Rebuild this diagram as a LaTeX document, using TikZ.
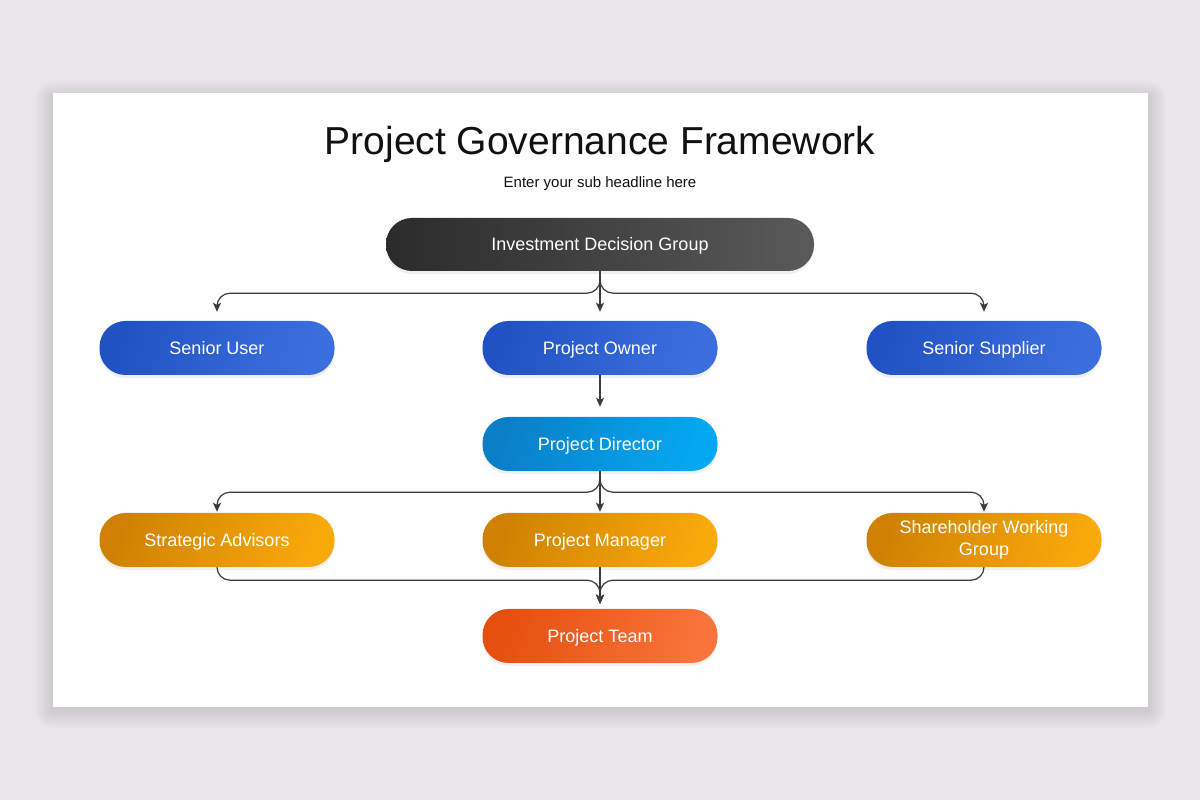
\documentclass[tikz,border=0pt]{standalone}
\usepackage{fontspec}
\setmainfont{Liberation Sans}
\usetikzlibrary{arrows.meta,shadows}

\definecolor{pagebg}{RGB}{232,230,232}
\definecolor{linegray}{RGB}{60,60,60}
\definecolor{titlegray}{RGB}{17,17,17}

\begin{document}
\begin{tikzpicture}[x=1pt,y=1pt,
    pill/.style={rounded corners=26pt, minimum width=235pt, minimum height=54pt,
      text=white, align=center, font=\fontsize{18}{22}\selectfont,
      text height=13pt, text depth=0pt,
      drop shadow={opacity=0.12, shadow xshift=0pt, shadow yshift=-3pt}},
    conn/.style={draw=linegray, line width=1.2pt, rounded corners=13pt,
      -{Stealth[length=9pt,width=8pt,inset=2pt]}}]

  \useasboundingbox (0,0) rectangle (1200,800);
  \fill[pagebg] (0,0) rectangle (1200,800);
  \foreach \s in {2,4,...,18}
    \fill[black, opacity=0.011, rounded corners=\s pt] (53-\s,93-\s-3) rectangle (1148+\s,707+\s-6);
  \fill[white] (53,93) rectangle (1148,707);

  \node[text=titlegray, font=\fontsize{39}{44}\selectfont] (title) at (600,656) {Project Governance Framework};
  \node[text=titlegray, font=\fontsize{15}{18}\selectfont] (subtitle) at (600,616) {Enter your sub headline here};

  \node[pill, minimum width=428pt, minimum height=53pt, left color={rgb,255:red,43;green,43;blue,43},
    right color={rgb,255:red,90;green,90;blue,90}] (idg) at (600,555.5) {Investment Decision Group};

  \node[pill, left color={rgb,255:red,33;green,82;blue,196}, right color={rgb,255:red,59;green,111;blue,224}, shading angle=70] (su) at (217,452) {Senior User};
  \node[pill, left color={rgb,255:red,33;green,82;blue,196}, right color={rgb,255:red,59;green,111;blue,224}, shading angle=70] (po) at (600,452) {Project Owner};
  \node[pill, left color={rgb,255:red,33;green,82;blue,196}, right color={rgb,255:red,59;green,111;blue,224}, shading angle=70] (ss) at (984,452) {Senior Supplier};

  \node[pill, left color={rgb,255:red,10;green,127;blue,200}, right color={rgb,255:red,4;green,168;blue,242}, shading angle=70] (pd) at (600,356) {Project Director};

  \node[pill, left color={rgb,255:red,207;green,130;blue,2}, right color={rgb,255:red,249;green,169;blue,10}, shading angle=70] (sa) at (217,260) {Strategic Advisors};
  \node[pill, left color={rgb,255:red,207;green,130;blue,2}, right color={rgb,255:red,249;green,169;blue,10}, shading angle=70] (pm) at (600,260) {Project Manager};
  \node[pill, text height={}, text depth={}, left color={rgb,255:red,207;green,130;blue,2}, right color={rgb,255:red,249;green,169;blue,10}, shading angle=70] (swg) at (984,260) {Shareholder Working\\Group};

  \node[pill, left color={rgb,255:red,229;green,80;blue,14}, right color={rgb,255:red,249;green,116;blue,58}, shading angle=70] (pt) at (600,164) {Project Team};

  \draw[conn] (idg.south) -- ++(0,-22) -| ([yshift=9pt]su.north);
  \draw[conn] (idg.south) -- ([yshift=9pt]po.north);
  \draw[conn] (idg.south) -- ++(0,-22) -| ([yshift=9pt]ss.north);

  \draw[conn] (po.south) -- ([yshift=10pt]pd.north);

  \draw[conn] (pd.south) -- ++(0,-21) -| ([yshift=1pt]sa.north);
  \draw[conn] (pd.south) -- ([yshift=1pt]pm.north);
  \draw[conn] (pd.south) -- ++(0,-21) -| ([yshift=1pt]swg.north);

  \draw[conn] (sa.south) -- ++(0,-13) -| ([yshift=5pt]pt.north);
  \draw[conn] (pm.south) -- ([yshift=5pt]pt.north);
  \draw[conn] (swg.south) -- ++(0,-13) -| ([yshift=5pt]pt.north);
\end{tikzpicture}
\end{document}
